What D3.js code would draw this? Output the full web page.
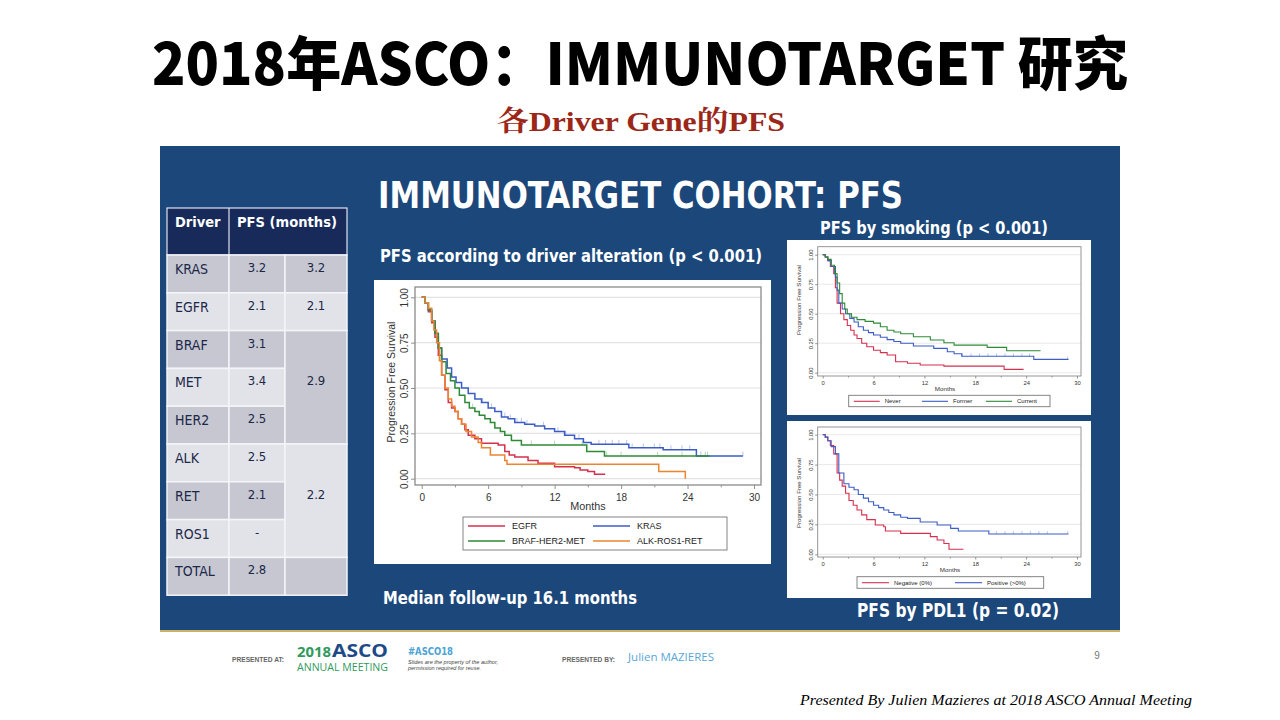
<!DOCTYPE html>
<html>
<head>
<meta charset="utf-8">
<script src="https://cdn.jsdelivr.net/npm/d3@7"></script>
<style>
  body { margin: 0; background: #fff; }
  svg { display: block; }
</style>
</head>
<body>
<svg id="slide" width="1280" height="720"></svg>
<script>
// ---- data: driver alteration (main chart) ----
const xTicks = [0, 6, 12, 18, 24, 30];
const yTicks = [0, 0.25, 0.5, 0.75, 1];
const yTickLabels = ["0.00", "0.25", "0.50", "0.75", "1.00"];

const egfrT = [0,0.3,0.6,0.9,1.2,1.5,1.8,2.1,2.4,2.7,3.0,3.3,3.6,3.9,4.2,4.8,5.4,6.9,7.5,7.9,8.4,9.6,10.5,12.0,13.8,14.3,15.0,15.6,16.5];
const egfrS = [1,0.97,0.92,0.86,0.78,0.68,0.57,0.49,0.42,0.39,0.37,0.33,0.30,0.27,0.24,0.22,0.195,0.186,0.15,0.13,0.12,0.10,0.085,0.066,0.06,0.048,0.04,0.025,0.02];
const krasT = [0,0.3,0.6,0.9,1.2,1.5,1.8,2.3,2.7,3.1,3.6,4.2,4.8,5.4,6.0,6.6,7.2,7.8,8.4,9.3,10.2,11.1,12.0,12.9,13.8,14.6,15.3,18.7,21.8,24.8,29.0];
const krasS = [1,0.97,0.93,0.87,0.80,0.72,0.66,0.61,0.56,0.53,0.50,0.47,0.44,0.42,0.39,0.37,0.34,0.33,0.31,0.30,0.29,0.275,0.26,0.24,0.22,0.20,0.19,0.17,0.16,0.125,0.125];
const bhmT = [0,0.3,0.6,0.9,1.2,1.5,1.8,2.2,2.6,3.0,3.4,3.9,4.3,4.8,5.2,5.7,6.2,6.6,7.1,7.5,8.1,9.0,14.9,16.5,26.0];
const bhmS = [1,0.97,0.93,0.87,0.80,0.72,0.645,0.58,0.54,0.50,0.46,0.42,0.39,0.37,0.35,0.33,0.31,0.28,0.26,0.24,0.21,0.186,0.15,0.125,0.125];
const arrT = [0,0.3,0.6,0.9,1.1,1.35,1.6,1.8,2.1,2.4,2.7,3.0,3.3,3.6,4.0,4.5,5.1,5.4,6.2,7.5,7.7,21.4,23.8];
const arrS = [1,0.97,0.94,0.87,0.82,0.75,0.65,0.57,0.50,0.44,0.40,0.37,0.33,0.30,0.26,0.23,0.20,0.17,0.13,0.10,0.08,0.04,0.0];
const krasCensor = [5.5,6.3,7.5,8.0,8.6,9.0,9.5,11.0,12.3,13.0,14.2,16.0,16.6,17.2,17.8,18.5,19.0,20.0,21.0,21.5,22.5,23.5,24.2,25.2,25.6,29.0];
const bhmCensor = [4.6,9.9,12.0,14.5,16.7,18.0,21.3,23.5,25.8];

// ---- data: smoking ----
const neverT = [0,0.3,0.6,0.9,1.3,1.5,1.7,2.1,2.5,2.9,3.3,3.7,4.05,4.6,5.2,6.0,6.8,7.6,8.6,10.0,11.5,14.3,21.4,23.7];
const neverS = [1,0.98,0.95,0.90,0.84,0.72,0.59,0.50,0.45,0.40,0.36,0.32,0.29,0.25,0.22,0.19,0.17,0.15,0.093,0.08,0.065,0.056,0.028,0.028];
const formerT = [0,0.3,0.6,1.0,1.5,1.7,1.9,2.3,2.7,3.2,3.7,4.2,4.8,5.4,6.0,6.8,7.6,8.4,9.2,10.7,13.1,14.7,15.5,16.4,24.9,29.0];
const formerS = [1,0.98,0.95,0.90,0.81,0.70,0.59,0.54,0.50,0.46,0.43,0.39,0.36,0.34,0.32,0.30,0.28,0.265,0.25,0.226,0.206,0.178,0.16,0.14,0.113,0.113];
const currentT = [0,0.3,0.6,1.0,1.4,1.7,2.0,2.3,2.6,2.9,3.4,4.05,5.0,6.0,6.8,7.6,8.4,9.2,10.7,12.7,14.3,15.5,19.4,21.7,25.7];
const currentS = [1,0.98,0.96,0.91,0.84,0.76,0.67,0.59,0.54,0.50,0.47,0.45,0.435,0.42,0.39,0.36,0.345,0.33,0.305,0.277,0.254,0.234,0.215,0.186,0.186];
const formerCensor = [16.5,17.5,18.5,19.5,20.5,21.5,22.5,23.5,24.4,28.9];

// ---- data: PDL1 ----
const negT = [0,0.3,0.6,0.9,1.3,1.7,2.0,2.3,2.7,3.1,3.6,4.05,4.6,5.2,6.2,7.2,7.4,9.2,12.7,13.5,14.3,14.9,16.6];
const negS = [1,0.98,0.95,0.91,0.84,0.68,0.62,0.57,0.51,0.45,0.41,0.37,0.33,0.29,0.245,0.23,0.195,0.175,0.148,0.12,0.09,0.042,0.042];
const posT = [0,0.3,0.6,1.0,1.5,1.9,2.5,3.1,3.7,4.2,4.8,5.4,6.0,6.6,7.2,7.8,8.4,9.2,10.0,11.5,13.5,15.1,16.0,19.6,29.0];
const posS = [1,0.98,0.95,0.90,0.84,0.68,0.59,0.56,0.54,0.50,0.47,0.44,0.41,0.39,0.37,0.35,0.33,0.31,0.30,0.27,0.245,0.217,0.195,0.17,0.17];
const posCensor = [20.5,21.5,22.5,23.5,24.5,25.5,26.5,28.9];

// ---- data: table ----
const drivers = ["KRAS", "EGFR", "BRAF", "MET", "HER2", "ALK", "RET", "ROS1", "TOTAL"];
const pfsMonths = ["3.2", "2.1", "3.1", "3.4", "2.5", "2.5", "2.1", "-", "2.8"];
const groupPfs = ["3.2", "2.1", "2.9", "2.2", ""];
const groupSpan = [1, 1, 3, 3, 1];

const RED = "#d4314f", BLUE = "#3c5cc6", GREEN = "#2e8a36", ORANGE = "#ec8530";
const PANEL = "#1b477b";

const svg = d3.select("#slide");

function txt(parent, x, y, s, o) {
    const t = parent.append("text").attr("x", x).attr("y", y).text(s)
        .style("font-family", o.font || "Liberation Sans")
        .style("font-size", o.size + "px")
        .style("font-weight", o.weight || "normal")
        .style("font-style", o.style || "normal")
        .attr("fill", o.fill || "#000")
        .attr("text-anchor", o.anchor || "start");
    if (o.len) t.attr("textLength", o.len).attr("lengthAdjust", "spacingAndGlyphs");
    if (o.rot) t.attr("transform", `rotate(-90, ${x}, ${y})`);
    return t;
}

// ---- headings ----
txt(svg, 640, 85, "2018年ASCO：IMMUNOTARGET 研究", {font: "Noto Sans CJK SC", size: 58, weight: 900, anchor: "middle", len: 976});
txt(svg, 641, 131, "各Driver Gene的PFS", {font: "Liberation Serif, Noto Serif CJK SC, Noto Sans CJK SC", size: 28, weight: "bold", fill: "#9b2718", anchor: "middle", len: 288});

// ---- panel ----
svg.append("rect").attr("x", 160).attr("y", 146).attr("width", 960).attr("height", 485).attr("fill", PANEL);
svg.append("rect").attr("x", 160).attr("y", 630).attr("width", 960).attr("height", 2).attr("fill", "#c9b36a");

const cond = "DejaVu Sans Condensed";
txt(svg, 378, 208, "IMMUNOTARGET COHORT: PFS", {font: cond, size: 37, weight: "bold", fill: "#fff", len: 525});
txt(svg, 380, 262, "PFS according to driver alteration (p < 0.001)", {font: cond, size: 17, weight: "bold", fill: "#fff", len: 382});
txt(svg, 820, 234, "PFS by smoking (p < 0.001)", {font: cond, size: 17, weight: "bold", fill: "#fff", len: 228});
txt(svg, 383, 604, "Median follow-up 16.1 months", {font: cond, size: 17, weight: "bold", fill: "#fff", len: 254});
txt(svg, 857, 617, "PFS by PDL1 (p = 0.02)", {font: cond, size: 19, weight: "bold", fill: "#fff", len: 202});

// ---- table ----
const tbl = svg.append("g");
const colX = [167, 229, 285, 347];
const headTop = 208, headBot = 255, rowH = 37.8;
const rowY = d3.scaleLinear().domain([0, drivers.length]).range([headBot, headBot + rowH * drivers.length]);
tbl.append("rect").attr("x", colX[0]).attr("y", headTop).attr("width", colX[3] - colX[0]).attr("height", headBot - headTop)
    .attr("fill", "#172a5a").attr("stroke", "#dfe3ee").attr("stroke-width", 1.2);
tbl.append("line").attr("x1", colX[1]).attr("x2", colX[1]).attr("y1", headTop).attr("y2", headBot).attr("stroke", "#dfe3ee").attr("stroke-width", 1.2);
txt(tbl, 175, 227, "Driver", {font: cond, size: 14.5, weight: "bold", fill: "#fff"});
txt(tbl, 237, 227, "PFS (months)", {font: cond, size: 14.5, weight: "bold", fill: "#fff", len: 100});

const shade = i => (i % 2 === 0 ? "#c6c7d1" : "#e2e3e9");
drivers.forEach((d, i) => {
    [0, 1].forEach(c => {
        tbl.append("rect").attr("x", colX[c]).attr("y", rowY(i)).attr("width", colX[c + 1] - colX[c]).attr("height", rowH)
            .attr("fill", shade(i)).attr("stroke", "#f4f5f8").attr("stroke-width", 1.5);
    });
    txt(tbl, 175, rowY(i) + 19, d, {font: cond, size: 14, fill: "#1c2848"});
    txt(tbl, (colX[1] + colX[2]) / 2, rowY(i) + 17, pfsMonths[i], {font: cond, size: 13, fill: "#1c2848", anchor: "middle"});
});
let startRow = 0;
groupPfs.forEach((v, g) => {
    const y0 = rowY(startRow), y1 = rowY(startRow + groupSpan[g]);
    tbl.append("rect").attr("x", colX[2]).attr("y", y0).attr("width", colX[3] - colX[2]).attr("height", y1 - y0)
        .attr("fill", shade(g)).attr("stroke", "#f4f5f8").attr("stroke-width", 1.5);
    const ty = groupSpan[g] > 1 ? (y0 + y1) / 2 - 2 : y0 + 17;
    txt(tbl, (colX[2] + colX[3]) / 2, ty, v, {font: cond, size: 13, fill: "#1c2848", anchor: "middle"});
    startRow += groupSpan[g];
});

// ---- Kaplan-Meier chart helper ----
function drawKM(c) {
    const g = svg.append("g");
    g.append("rect").attr("x", c.box[0]).attr("y", c.box[1]).attr("width", c.box[2]).attr("height", c.box[3]).attr("fill", "#fff");
    const x = d3.scaleLinear().domain([0, 30]).range(c.xr);
    const y = d3.scaleLinear().domain([0, 1]).range(c.yr);
    const f = c.frame; // [left, top, right, bottom]

    // grid lines
    g.selectAll(".grid").data(yTicks).join("line")
        .attr("x1", f[0]).attr("x2", f[2]).attr("y1", d => y(d)).attr("y2", d => y(d))
        .attr("stroke", "#e2e2e2").attr("stroke-width", c.fs > 8 ? 1.2 : 0.8);

    // axes on the frame
    const xAx = g.append("g").attr("transform", `translate(0,${f[3]})`)
        .call(d3.axisBottom(x).tickValues(xTicks).tickSize(c.tk).tickPadding(c.fs * 0.45));
    g.append("g").attr("transform", `translate(0,${f[3]})`)
        .call(d3.axisBottom(x).tickValues(d3.range(3, 30, 6)).tickSize(c.tk * 0.6).tickFormat(""));
    const yAx = g.append("g").attr("transform", `translate(${f[0]},0)`)
        .call(d3.axisLeft(y).tickValues(yTicks).tickSize(c.tk).tickFormat((d, i) => yTickLabels[i]));
    g.selectAll(".domain").remove();
    g.selectAll(".tick line").attr("stroke", "#777").attr("stroke-width", 0.8);
    xAx.selectAll("text").style("font-family", "Liberation Sans").style("font-size", c.fs + "px").attr("fill", "#333");
    yAx.selectAll("text").style("font-family", "Liberation Sans").style("font-size", c.fs + "px").attr("fill", "#333")
        .attr("text-anchor", "middle").attr("x", 0).attr("dy", 0)
        .attr("transform", `translate(${-c.tk - c.fs * 0.35},0) rotate(-90)`);
    g.append("rect").attr("x", f[0]).attr("y", f[1]).attr("width", f[2] - f[0]).attr("height", f[3] - f[1])
        .attr("fill", "none").attr("stroke", "#8a8a8a").attr("stroke-width", c.fs > 8 ? 1.3 : 0.9);

    txt(g, c.months[0], c.months[1], "Months", {size: c.fs * 1.08, fill: "#333", anchor: "middle"});
    txt(g, c.ytitle[0], c.ytitle[1], "Progression Free Survival", {size: c.fs * 1.05, fill: "#333", anchor: "middle", rot: true});

    const line = d3.line().x(d => x(d[0])).y(d => y(d[1])).curve(d3.curveStepAfter);
    c.series.forEach(s => {
        const pts = s.t.map((t, i) => [t, s.s[i]]);
        g.append("path").attr("d", line(pts)).attr("fill", "none").attr("stroke", s.color).attr("stroke-width", c.lw);
        if (s.censor) {
            const bis = d3.bisector(d => d).right;
            g.selectAll(null).data(s.censor).join("line")
                .attr("x1", d => x(d)).attr("x2", d => x(d))
                .attr("y1", d => y(s.s[Math.max(0, bis(s.t, d) - 1)]))
                .attr("y2", d => y(s.s[Math.max(0, bis(s.t, d) - 1)]) - c.tk * 1.1)
                .attr("stroke", s.color).attr("stroke-opacity", 0.45).attr("stroke-width", 0.8);
        }
    });

    // legend
    const L = c.legend;
    g.append("rect").attr("x", L.box[0]).attr("y", L.box[1]).attr("width", L.box[2]).attr("height", L.box[3])
        .attr("fill", "#fff").attr("stroke", "#777").attr("stroke-width", 0.9);
    c.series.forEach((s, i) => {
        const p = L.pos[i];
        g.append("line").attr("x1", p[0]).attr("x2", p[0] + L.len).attr("y1", p[1]).attr("y2", p[1])
            .attr("stroke", s.color).attr("stroke-width", c.lw);
        txt(g, p[0] + L.len + L.gap, p[1] + L.fs * 0.35, s.name, {size: L.fs, fill: "#222"});
    });
}

drawKM({
    box: [374, 280, 397, 284], frame: [415, 287, 761, 485],
    xr: [421.7, 754], yr: [478.7, 297.3], fs: 10, tk: 4, lw: 1.5,
    months: [588, 510], ytitle: [395, 382],
    series: [
        {name: "EGFR", t: egfrT, s: egfrS, color: RED},
        {name: "KRAS", t: krasT, s: krasS, color: BLUE, censor: krasCensor},
        {name: "BRAF-HER2-MET", t: bhmT, s: bhmS, color: GREEN, censor: bhmCensor},
        {name: "ALK-ROS1-RET", t: arrT, s: arrS, color: ORANGE}
    ],
    legend: {box: [463, 517, 264, 33], pos: [[468, 526], [593, 526], [468, 541], [593, 541]], len: 37, gap: 7, fs: 9}
});

drawKM({
    box: [787, 240, 304, 175], frame: [817.7, 246.7, 1081, 376],
    xr: [822.7, 1077], yr: [372.7, 254.7], fs: 5.8, tk: 2.5, lw: 1.1,
    months: [945, 391], ytitle: [801, 300],
    series: [
        {name: "Never", t: neverT, s: neverS, color: RED},
        {name: "Former", t: formerT, s: formerS, color: BLUE, censor: formerCensor},
        {name: "Current", t: currentT, s: currentS, color: GREEN}
    ],
    legend: {box: [848.7, 395.3, 201.3, 11.4], pos: [[853.7, 401.3], [922, 401.3], [986, 401.3]], len: 26, gap: 5, fs: 6}
});

drawKM({
    box: [787, 421, 304, 177], frame: [817.7, 427, 1081, 557],
    xr: [822.7, 1077], yr: [554.3, 434.7], fs: 5.8, tk: 2.5, lw: 1.1,
    months: [950, 572], ytitle: [801, 493],
    series: [
        {name: "Negative (0%)", t: negT, s: negS, color: RED},
        {name: "Positive (>0%)", t: posT, s: posS, color: BLUE, censor: posCensor}
    ],
    legend: {box: [857, 576.7, 186.7, 11.6], pos: [[862, 582.7], [955, 582.7]], len: 27, gap: 5, fs: 6}
});

// ---- footer ----
const foot = svg.append("g");
txt(foot, 232, 662, "PRESENTED AT:", {size: 6.5, weight: "bold", fill: "#666", len: 52});
txt(foot, 297, 657, "2018", {font: "Open Sans", size: 14, weight: "bold", fill: "#2f9a5c", len: 34});
txt(foot, 332, 657, "ASCO", {font: "Open Sans", size: 17.5, weight: "bold", fill: "#1d4a86", len: 56});
txt(foot, 297, 671, "ANNUAL MEETING", {font: "Open Sans", size: 10.5, fill: "#2f9a5c", len: 91});
txt(foot, 408, 655, "#ASCO18", {font: cond, size: 10.5, weight: "bold", fill: "#4ba3d6", len: 45});
txt(foot, 408, 663.5, "Slides are the property of the author,", {size: 4.5, style: "italic", fill: "#444", len: 90});
txt(foot, 408, 670, "permission required for reuse.", {size: 4.5, style: "italic", fill: "#444", len: 73});
txt(foot, 562, 662, "PRESENTED BY:", {size: 6.5, weight: "bold", fill: "#666", len: 53});
txt(foot, 628, 661, "Julien MAZIERES", {font: "Open Sans", size: 10.5, fill: "#5aa6d6", len: 86});
txt(foot, 1097, 659, "9", {size: 10, fill: "#777", anchor: "middle"});
txt(svg, 1192, 705, "Presented By Julien Mazieres at 2018 ASCO Annual Meeting", {font: "Liberation Serif", size: 15, style: "italic", fill: "#000", anchor: "end", len: 392});
</script>
</body>
</html>
